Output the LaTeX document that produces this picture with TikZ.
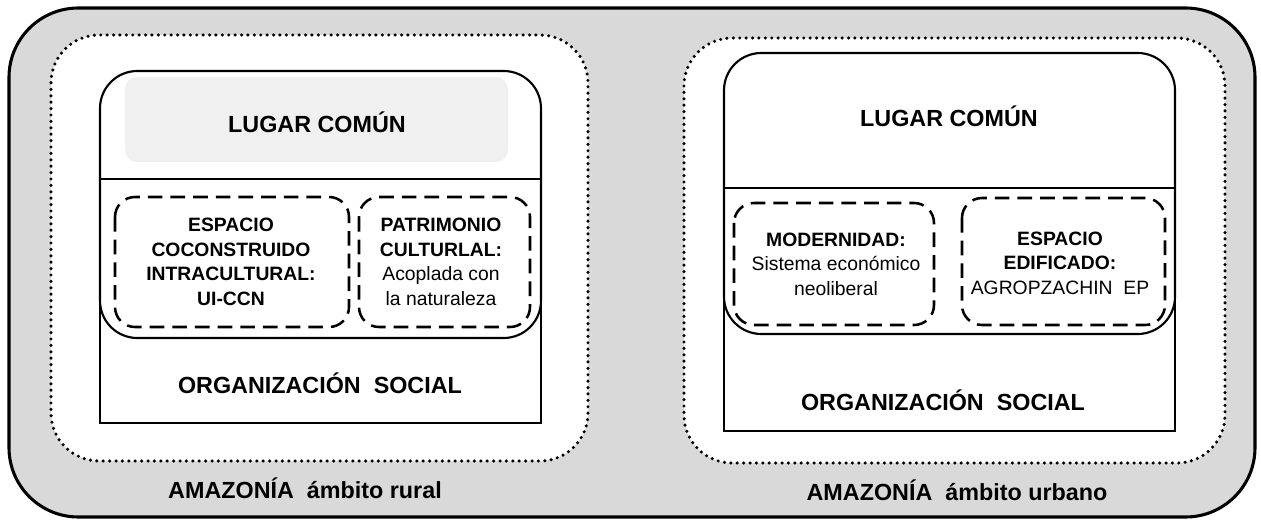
\documentclass[tikz,border=0pt]{standalone}
\usepackage{fontspec}
\setmainfont{Liberation Sans}
\usepackage{tikz}
\usepackage{xcolor}
\usetikzlibrary{positioning}

\definecolor{fondo}{RGB}{217,217,217}
\definecolor{lugargris}{RGB}{240,240,240}

\begin{document}
\begin{tikzpicture}[x=0.75pt, y=-0.75pt,
    ambito/.style={draw, line width=2.3pt, fill=fondo, rounded corners=52pt},
    zona/.style={draw, line width=2.6pt, fill=white, line cap=round, dash pattern=on 0pt off 4.8pt, rounded corners=36pt},
    lugar/.style={draw, line width=1.6pt, fill=white, rounded corners=28pt},
    orgbox/.style={draw, line width=1.6pt},
    subbox/.style={draw, line width=1.9pt, dash pattern=on 11pt off 6pt, rounded corners=15pt},
    titulo/.style={font=\fontsize{17.5}{21}\selectfont\bfseries},
    texto/.style={font=\fontsize{14.5}{18.4}\selectfont, align=center}]
    \useasboundingbox (0,0) rectangle (1261,524);

    % fondo
    \draw[ambito] (9,8) rectangle (1255,517);

    % ambito rural
    \draw[zona] (51,35) rectangle (588,461);
    \draw[lugar] (100,71) rectangle (541,338);
    \fill[lugargris, rounded corners=9pt] (125,77) rectangle (508,162);
    \draw[orgbox] (100,179) rectangle (541,423);
    \draw[subbox] (115,197) rectangle (349,327);
    \draw[subbox] (359,197) rectangle (530,327);

    \node[titulo] (lugarR) at (317,122) {LUGAR COMÚN};
    \node[texto] (espacioR) at (231,262) {\textbf{ESPACIO}\\\textbf{COCONSTRUIDO}\\\textbf{INTRACULTURAL:}\\\textbf{UI-CCN}};
    \node[texto] (patrimonioR) at (441,262) {\textbf{PATRIMONIO}\\\textbf{CULTURLAL:}\\Acoplada con\\la naturaleza};
    \node[titulo] (orgR) at (320,383) {ORGANIZACIÓN\ \ SOCIAL};
    \node[titulo] (amazR) at (305,488) {AMAZONÍA\ \ ámbito rural};

    % ambito urbano
    \draw[zona] (684,38) rectangle (1225,463);
    \draw[lugar] (724,53) rectangle (1175,334);
    \draw[orgbox] (724,188) rectangle (1175,431);
    \draw[subbox] (734,203) rectangle (934,325);
    \draw[subbox] (962,198) rectangle (1165,325);

    \node[titulo] (lugarU) at (949,116) {LUGAR COMÚN};
    \node[texto] (modernidadU) at (836,264) {\textbf{MODERNIDAD:}\\Sistema económico\\neoliberal};
    \node[texto] (edificadoU) at (1060,263) {\textbf{ESPACIO}\\\textbf{EDIFICADO:}\\AGROPZACHIN\ \ EP};
    \node[titulo] (orgU) at (943,400) {ORGANIZACIÓN\ \ SOCIAL};
    \node[titulo] (amazU) at (957,490) {AMAZONÍA\ \ ámbito urbano};
\end{tikzpicture}
\end{document}
